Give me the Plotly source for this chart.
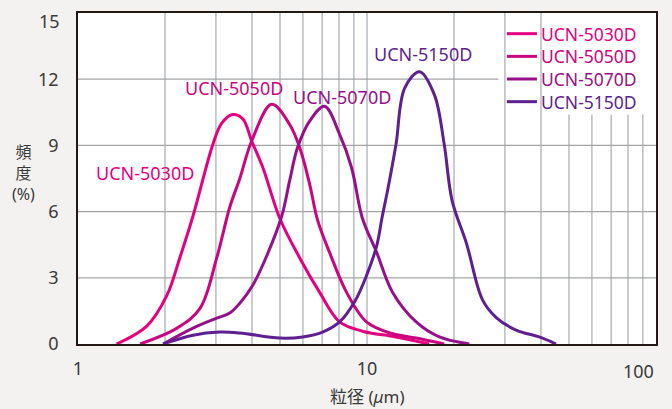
import math
import plotly.graph_objects as go

# ---------------- data ----------------
series_names = ["UCN-5030D", "UCN-5050D", "UCN-5070D", "UCN-5150D"]

x_5030 = [1.36, 1.73, 2.03, 2.25, 2.50, 2.93, 3.14, 3.43, 3.72, 3.99, 4.36, 4.99, 5.85, 6.85, 8.04, 9.64, 12.6, 16.4]
y_5030 = [0.0, 0.81, 2.2, 3.9, 5.8, 9.05, 10.0, 10.4, 10.2, 9.2, 8.0, 5.7, 3.9, 2.35, 1.0, 0.58, 0.32, 0.0]

x_5050 = [1.64, 2.20, 2.64, 3.02, 3.35, 3.63, 3.99, 4.68, 5.40, 5.85, 6.33, 6.75, 7.42, 8.49, 9.96, 12.0, 14.8, 18.5]
y_5050 = [0.0, 0.72, 1.6, 3.9, 6.2, 7.5, 9.2, 10.86, 9.95, 8.9, 7.25, 5.6, 4.15, 2.35, 1.0, 0.5, 0.27, 0.0]

x_5070 = [1.97, 2.50, 3.02, 3.35, 3.63, 4.02, 4.50, 5.07, 5.40, 5.75, 6.33, 7.13, 8.04, 8.84, 9.64, 10.8, 12.25, 14.8, 17.8, 22.6]
y_5070 = [0.0, 0.72, 1.17, 1.4, 1.85, 2.65, 4.0, 5.8, 7.4, 8.9, 10.1, 10.77, 9.5, 8.0, 5.7, 4.15, 2.35, 1.0, 0.32, 0.0]

x_5150 = [1.97, 2.50, 3.09, 3.63, 4.99, 5.99, 7.02, 8.04, 9.05, 9.96, 10.8, 11.3, 11.8, 12.6, 13.5, 15.2,
          17.1, 18.5, 19.7, 22.1, 25.1, 28.0, 32.8, 39.4, 45.1]
y_5150 = [0.0, 0.4, 0.54, 0.5, 0.27, 0.32, 0.54, 1.0, 1.9, 3.1, 4.45, 5.8, 7.0, 9.05, 11.6, 12.34,
          11.3, 9.05, 6.5, 4.55, 2.0, 1.2, 0.63, 0.32, 0.0]

x_values = [x_5030, x_5050, x_5070, x_5150]
y_values = [y_5030, y_5050, y_5070, y_5150]

x_tick_labels = ["1", "10", "100"]
y_tick_labels = ["0", "3", "6", "9", "12", "15"]

# ---------------- styles ----------------
colors = ["#E4007F", "#C8067F", "#96108A", "#5E1F8F"]
FONT = "Noto Sans, Noto Sans CJK JP, sans-serif"
TXT = "#3a3a3a"
label_pos = [(1.703, 7.75), (3.46, 11.62), (8.17, 11.2), (15.67, 13.15)]
legend_rows = [0.9375, 0.869, 0.8006, 0.7321]   # paper y of legend rows
legend_line_x = (0.742, 0.794)
legend_text_x = 0.797

fig = go.Figure()
for name, xs, ys, c in zip(series_names, x_values, y_values, colors):
    fig.add_trace(go.Scatter(
        x=xs, y=ys, mode="lines", name=name, showlegend=False,
        line=dict(color=c, width=3, shape="spline", smoothing=1.0),
    ))

shapes = []
vgrid_full = [2, 3, 4, 5, 6, 7, 8, 9, 10, 20, 30, 40]
vgrid_part = [50, 60, 70, 80, 90]
for v in vgrid_full:
    shapes.append(dict(type="line", xref="paper", yref="y", x0=math.log10(v) / 2, x1=math.log10(v) / 2,
                       y0=0, y1=15, line=dict(color="#bcc0c3", width=1.6), layer="below"))
for v in vgrid_part:
    shapes.append(dict(type="line", xref="paper", yref="y", x0=math.log10(v) / 2, x1=math.log10(v) / 2,
                       y0=0, y1=10.4, line=dict(color="#bcc0c3", width=1.6), layer="below"))
for h in [3, 6, 9]:
    shapes.append(dict(type="line", xref="paper", yref="y", x0=0, x1=1, y0=h, y1=h,
                       line=dict(color="#a3a5a7", width=1.2), layer="below"))
shapes.append(dict(type="line", xref="paper", yref="y", x0=0, x1=math.log10(28.5) / 2, y0=12, y1=12,
                   line=dict(color="#a3a5a7", width=1.2), layer="below"))

annotations = []
# legend (line swatch + coloured name)
for name, c, ry in zip(series_names, colors, legend_rows):
    shapes.append(dict(type="line", xref="paper", yref="paper", x0=legend_line_x[0], x1=legend_line_x[1],
                       y0=ry, y1=ry, line=dict(color=c, width=3)))
    annotations.append(dict(x=legend_text_x, y=ry, xref="paper", yref="paper", text=name, showarrow=False,
                            xanchor="left", yanchor="middle",
                            font=dict(family=FONT, size=17.5, color=c)))
# curve labels
for name, (lx, ly), c in zip(series_names, label_pos, colors):
    annotations.append(dict(x=math.log10(lx), y=ly, xref="x", yref="y", text=name, showarrow=False,
                            font=dict(family=FONT, size=18, color=c), xanchor="center", yanchor="middle"))
# edge tick labels kept inside
annotations.append(dict(x=1, y=-0.04, xref="paper", yref="paper", text=x_tick_labels[2], showarrow=False,
                        xanchor="right", yanchor="top", font=dict(family=FONT, size=18, color=TXT)))
annotations.append(dict(x=-0.028, y=0.976, xref="paper", yref="paper", text=y_tick_labels[5], showarrow=False,
                        xanchor="right", yanchor="middle", font=dict(family=FONT, size=18, color=TXT)))
# axis titles
annotations.append(dict(x=0.5, y=-0.159, xref="paper", yref="paper", text="粒径 (<i>μ</i>m)", showarrow=False,
                        xanchor="center", yanchor="middle", font=dict(family=FONT, size=17, color=TXT)))
annotations.append(dict(x=-0.095, y=0.517, xref="paper", yref="paper", text="頻<br>度<br>(%)", showarrow=False,
                        xanchor="center", yanchor="middle", font=dict(family=FONT, size=16, color=TXT)))

fig.update_layout(
    width=672, height=409,
    margin=dict(l=78, r=16, t=11, b=65),
    paper_bgcolor="#f3f2f0", plot_bgcolor="#ffffff",
    font=dict(family=FONT, size=17, color=TXT),
    showlegend=False,
    shapes=shapes, annotations=annotations,
)
fig.update_xaxes(type="log", range=[0, 2], showgrid=False, zeroline=False,
                 showline=True, linecolor="#231815", linewidth=1.5, mirror=True,
                 tickvals=[1, 10], ticktext=x_tick_labels[:2], ticks="",
                 tickfont=dict(family=FONT, size=18, color=TXT), ticklabelstandoff=8)
fig.update_yaxes(range=[0, 15], showgrid=False, zeroline=False,
                 showline=True, linecolor="#231815", linewidth=1.5, mirror=True,
                 tickvals=[0, 3, 6, 9, 12], ticktext=y_tick_labels[:5], ticks="",
                 tickfont=dict(family=FONT, size=18, color=TXT), ticklabelstandoff=14)

fig.write_html("out.html", config={"displayModeBar": False},
               post_script="document.body.style.margin='0';document.body.style.background='#f3f2f0';")
